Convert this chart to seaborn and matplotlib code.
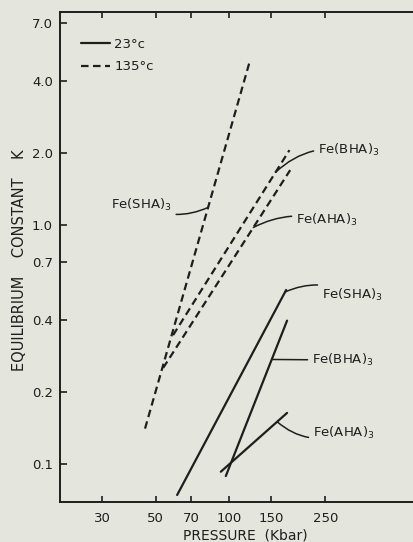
import numpy as np
import pandas as pd
import matplotlib
matplotlib.use("Agg")
import matplotlib.pyplot as plt
import seaborn as sns

# ---- data ----
compounds = ["Fe(SHA)3", "Fe(BHA)3", "Fe(AHA)3"]
# 23 °C (solid lines): start / end points
p23_start = [61.2, 97.2, 92.7]
p23_end = [172.5, 174.0, 174.0]
k23_start = [0.0744, 0.0893, 0.0931]
k23_end = [0.536, 0.399, 0.164]
# 135 °C (dashed lines): start / end points
p135_start = [45.1, 58.9, 53.6]
p135_end = [122.5, 178.0, 179.2]
k135_start = [0.141, 0.347, 0.253]
k135_end = [4.91, 2.06, 1.70]

temps = ["23°c", "135°c"]
x_ticks = [30, 50, 70, 100, 150, 250]
x_ticklabels = ["30", "50", "70", "100", "150", "250"]
y_ticks = [0.1, 0.2, 0.4, 0.7, 1.0, 2.0, 4.0, 7.0]
y_ticklabels = ["0.1", "0.2", "0.4", "0.7", "1.0", "2.0", "4.0", "7.0"]

rows = []
for i, c in enumerate(compounds):
    rows.append(dict(P=p23_start[i], K=k23_start[i], temp=temps[0], unit=c + "_23"))
    rows.append(dict(P=p23_end[i], K=k23_end[i], temp=temps[0], unit=c + "_23"))
    rows.append(dict(P=p135_start[i], K=k135_start[i], temp=temps[1], unit=c + "_135"))
    rows.append(dict(P=p135_end[i], K=k135_end[i], temp=temps[1], unit=c + "_135"))
df = pd.DataFrame(rows)

BG = "#e4e6de"
INK = "#1e1e1e"

sns.set_theme(style="ticks")
plt.rcParams["font.family"] = ["DejaVu Sans"]

fig = plt.figure(figsize=(4.14, 5.42), dpi=100, facecolor=BG)
ax = fig.add_axes([60 / 414, 40 / 542, 370 / 414, 490 / 542])
ax.set_facecolor(BG)

sns.lineplot(data=df, x="P", y="K", style="temp", units="unit", estimator=None,
             color=INK, linewidth=1.6, sort=False,
             dashes={temps[0]: "", temps[1]: (3.4, 2.0)},
             style_order=temps, ax=ax)

ax.set_xscale("log")
ax.set_yscale("log")
ax.set_xlim(20.1, 677)
ax.set_ylim(0.06955, 7.794)

ax.xaxis.set_minor_locator(matplotlib.ticker.NullLocator())
ax.yaxis.set_minor_locator(matplotlib.ticker.NullLocator())
ax.set_xticks(x_ticks)
ax.set_xticklabels(x_ticklabels)
ax.set_yticks(y_ticks)
ax.set_yticklabels(y_ticklabels)

ax.tick_params(axis="x", direction="in", length=4, width=1.2, pad=7,
               labelsize=9.5, colors=INK, top=True)
ax.tick_params(axis="y", direction="in", length=5, width=1.2, pad=5,
               labelsize=9.5, colors=INK)
for s in ["left", "bottom", "top"]:
    ax.spines[s].set_linewidth(1.4)
    ax.spines[s].set_color(INK)
ax.spines["right"].set_visible(False)

ax.set_xlabel("PRESSURE  (Kbar)", fontsize=10, color=INK, labelpad=4)
ax.xaxis.set_label_coords((245 - 60) / 370, -0.055)
ax.set_ylabel("EQUILIBRIUM    CONSTANT    K", fontsize=10.5, color=INK, labelpad=14)
ax.yaxis.set_label_coords(-0.09, (542 - 40 - 260) / 490)

# legend
handles, labels = ax.get_legend_handles_labels()
hl = [(h, l) for h, l in zip(handles, labels) if l in temps]
leg = ax.legend([h for h, _ in hl], [l for _, l in hl], frameon=False,
                loc="upper left", bbox_to_anchor=(0.025, 0.972),
                handlelength=2.2, handletextpad=0.3, labelspacing=0.75,
                fontsize=9.5)
for t in leg.get_texts():
    t.set_color(INK)


def point_on(ps, pe, ks, ke, frac):
    lp = np.log10(ps) + frac * (np.log10(pe) - np.log10(ps))
    lk = np.log10(ks) + frac * (np.log10(ke) - np.log10(ks))
    return 10 ** lp, 10 ** lk


def label(i, which, frac, txt_xy, rad, ha="left"):
    if which == 23:
        xy = point_on(p23_start[i], p23_end[i], k23_start[i], k23_end[i], frac)
    else:
        xy = point_on(p135_start[i], p135_end[i], k135_start[i], k135_end[i], frac)
    name = compounds[i][:-1] + "$_3$"
    ax.annotate(name, xy=xy, xytext=txt_xy, textcoords="data",
                ha=ha, va="center", fontsize=9.5, color=INK,
                arrowprops=dict(arrowstyle="-", color=INK, lw=1.1,
                                shrinkA=1, shrinkB=0,
                                connectionstyle=f"arc3,rad={rad}"))


# 135 °C labels
label(0, 135, 0.60, (58.0, 1.22), 0.25, ha="right")
label(1, 135, 0.88, (234, 2.06), 0.25)
label(2, 135, 0.71, (190, 1.05), 0.2)
# 23 °C labels
label(0, 23, 0.99, (243, 0.511), 0.25)
label(1, 23, 0.75, (221, 0.273), 0.0)
label(2, 23, 0.85, (223, 0.135), -0.3)

fig.savefig("out.png", dpi=100, facecolor=BG)
